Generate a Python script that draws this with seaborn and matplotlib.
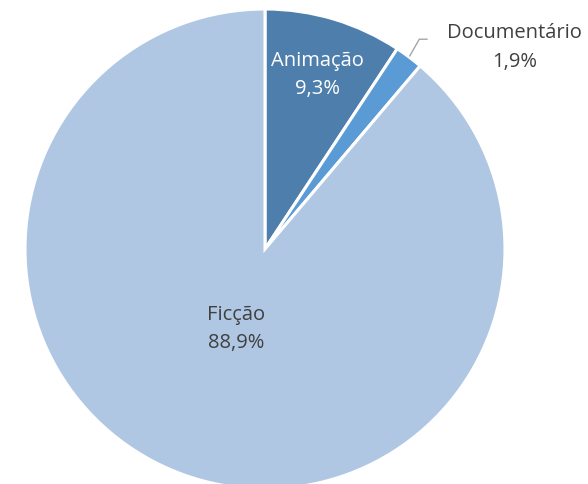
import numpy as np
import matplotlib
matplotlib.use("Agg")
import matplotlib.pyplot as plt
import seaborn as sns

# data
categories = ["Animação", "Documentário", "Ficção"]
shares = [9.3, 1.9, 88.9]
colors = ["#4e7fac", "#5b9bd5", "#b0c7e3"]
text_colors = ["white", "#404040", "#404040"]

sns.set_theme(style="white")
plt.rcParams["font.family"] = ["Open Sans", "DejaVu Sans"]

fig = plt.figure(figsize=(5.88, 4.85), dpi=100)
ax = fig.add_axes([0, 0, 1, 1])

wedges, _ = ax.pie(shares, colors=colors, startangle=90, counterclock=False,
                   wedgeprops=dict(edgecolor="white", linewidth=2.2),
                   radius=1.0)

# label radius per slice (inside for big ones, outside for the thin one)
label_r = [0.76, None, 0.35]
fs = 14.5
for w, cat, val, tc, r in zip(wedges, categories, shares, text_colors, label_r):
    ang = np.deg2rad((w.theta1 + w.theta2) / 2)
    txt = f"{cat}\n{val:.1f}%".replace(".", ",")
    if r is not None:
        ax.text(r * np.cos(ang), r * np.sin(ang), txt, ha="center", va="center",
                color=tc, fontsize=fs, linespacing=1.55)
    else:
        # leader line for the thin slice
        p0 = np.array([np.cos(ang), np.sin(ang)]) * 1.005
        p1 = p0 + np.array([0.04, 0.07])
        p2 = p1 + np.array([0.033, 0.0])
        ax.plot([p0[0], p1[0], p2[0]], [p0[1], p1[1], p2[1]], color="#a6a6a6", lw=1)
        ax.text(p2[0] + 0.365, p2[1] - 0.03, txt, ha="center", va="center",
                color=tc, fontsize=fs, linespacing=1.55)

ax.set_xlim(-265 / 240, (588 - 265) / 240)
ax.set_ylim(-235 / 240, 250 / 240)
ax.set_aspect("auto")
ax.axis("off")

fig.savefig("out.png", dpi=100)
